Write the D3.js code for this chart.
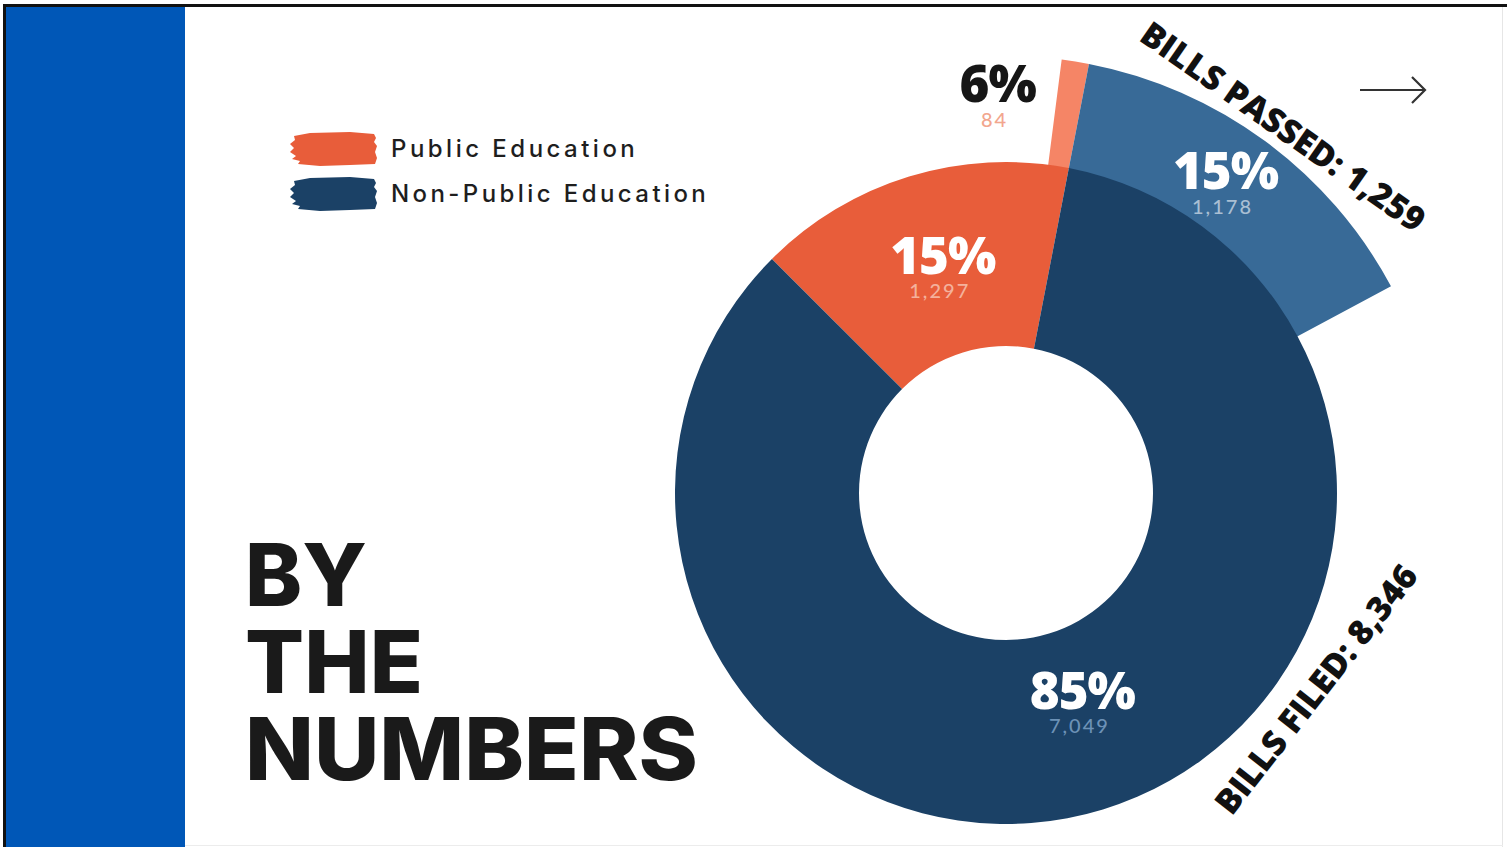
<!DOCTYPE html>
<html>
<head>
<meta charset="utf-8">
<script src="https://cdn.jsdelivr.net/npm/d3@7"></script>
<style>
  html, body { margin: 0; padding: 0; background: #fff; }
  svg { display: block; }
</style>
</head>
<body>
<svg id="chart"></svg>
<script>
const width = 1507;
const height = 847;

// bills filed (inner ring) and bills passed (outer sector)
const categories = ["Public Education", "Non-Public Education"];
const filedValues = [1297, 7049];
const passedValues = [84, 1178];
const filedPctLabels = ["15%", "85%"];
const passedPctLabels = ["6%", "15%"];
const filedTotal = "BILLS FILED: 8,346";
const passedTotal = "BILLS PASSED: 1,259";
const titleLines = ["BY", "THE", "NUMBERS"];

const colors = {
  filed: ["#e85d3a", "#1b4166"],
  passed: ["#f58566", "#386a97"],
  small: ["#f4b19c", "#6d92b7"],
  smallPassed: ["#f2a68e", "#a9bfd3"]
};

const deg = Math.PI / 180;
const cx = 1006, cy = 493;
const rInner = 147, rOuter = 331, rPassed = 437;

var svg = d3.select("#chart").attr("width", width).attr("height", height);

// side panel + frame
svg.append("rect").attr("x", 6).attr("y", 6).attr("width", 179).attr("height", height - 6).attr("fill", "#0057b7");
svg.append("line").attr("x1", 3).attr("x2", width).attr("y1", 5.5).attr("y2", 5.5).attr("stroke", "#111").attr("stroke-width", 3);
svg.append("line").attr("x1", 4.5).attr("x2", 4.5).attr("y1", 4).attr("y2", height).attr("stroke", "#111").attr("stroke-width", 3);
svg.append("line").attr("x1", 1502.5).attr("x2", 1502.5).attr("y1", 7).attr("y2", height).attr("stroke", "#e6e6e6").attr("stroke-width", 1);
svg.append("line").attr("x1", 185).attr("x2", 1503).attr("y1", 845.5).attr("y2", 845.5).attr("stroke", "#ececec").attr("stroke-width", 1);

// one scale for both rings: degrees per bill
const totalFiled = d3.sum(filedValues);
const angle = d3.scaleLinear().domain([0, totalFiled]).range([0, 2 * Math.PI]);
const startFiled = -45 * deg;

const pieFiled = d3.pie().sort(null).value(d => d)
  .startAngle(startFiled).endAngle(startFiled + 2 * Math.PI);
const filedArcs = pieFiled(filedValues);

// passed sector starts so that its split lines up with the filed split
const split = filedArcs[0].endAngle;
const passedStart = split - angle(passedValues[0]);
const passedEnd = split + angle(passedValues[1]);
const piePassed = d3.pie().sort(null).value(d => d)
  .startAngle(passedStart).endAngle(passedEnd);
const passedArcs = piePassed(passedValues);

const arcFiled = d3.arc().innerRadius(rInner).outerRadius(rOuter);
const arcPassed = d3.arc().innerRadius(rOuter - 1).outerRadius(rPassed);

const g = svg.append("g").attr("transform", `translate(${cx},${cy})`);

g.selectAll(".passed")
  .data(passedArcs)
  .join("path")
  .attr("class", "passed")
  .attr("d", arcPassed)
  .attr("fill", (d, i) => colors.passed[i]);

g.selectAll(".filed")
  .data(filedArcs)
  .join("path")
  .attr("class", "filed")
  .attr("d", arcFiled)
  .attr("fill", (d, i) => colors.filed[i]);

const pctFont = "'Open Sans', 'DejaVu Sans', sans-serif";
const numFont = "Lato, 'Open Sans', sans-serif";

function polar(a, r) {
  return [Math.sin(a) * r, -Math.cos(a) * r];
}

function label(pos, big, small, bigColor, smallColor, smallDy) {
  g.append("text")
    .attr("x", pos[0]).attr("y", pos[1] + 17)
    .attr("text-anchor", "middle")
    .attr("font-family", pctFont).attr("font-weight", 800)
    .attr("font-size", 51).attr("letter-spacing", -1)
    .attr("fill", bigColor)
    .text(big);
  g.append("text")
    .attr("x", pos[0] - 3).attr("y", pos[1] + smallDy)
    .attr("text-anchor", "middle")
    .attr("font-family", numFont).attr("font-weight", 500)
    .attr("font-size", 20).attr("letter-spacing", 2)
    .attr("fill", smallColor)
    .text(small);
}

const fmt = d3.format(",");

// filed labels
const pubMid = (filedArcs[0].startAngle + filedArcs[0].endAngle) / 2;
label(polar(pubMid + 2 * deg, 244), filedPctLabels[0], fmt(filedValues[0]), "#fff", colors.small[0], 41);
const nonMid = (filedArcs[1].startAngle + filedArcs[1].endAngle) / 2;
label(polar(nonMid - 4 * deg, 213), filedPctLabels[1], fmt(filedValues[1]), "#fff", colors.small[1], 41);

// passed labels
const blueMid = (passedArcs[1].startAngle + passedArcs[1].endAngle) / 2;
label(polar(blueMid - 2 * deg, 389), passedPctLabels[1], fmt(passedValues[1]), "#fff", colors.smallPassed[1], 42);
label(polar(passedArcs[0].startAngle - 8.5 * deg, 408), passedPctLabels[0], fmt(passedValues[0]), "#161616", colors.smallPassed[0], 42);

// totals written beside the rings
const passedMid = (passedStart + passedEnd) / 2;
const pp = polar(passedMid + 1.5 * deg, 460);
g.append("text")
  .attr("transform", `translate(${pp[0] + 7},${pp[1] + 5}) rotate(35)`)
  .attr("text-anchor", "middle").attr("dominant-baseline", "central")
  .attr("font-family", pctFont).attr("font-weight", 800)
  .attr("font-size", 34).attr("fill", "#111")
  .attr("textLength", 338).attr("lengthAdjust", "spacingAndGlyphs")
  .text(passedTotal);

const fp = polar(122.3 * deg, 366);
g.append("text")
  .attr("transform", `translate(${fp[0]},${fp[1]}) rotate(-52)`)
  .attr("text-anchor", "middle").attr("dominant-baseline", "central")
  .attr("font-family", pctFont).attr("font-weight", 800)
  .attr("font-size", 34).attr("fill", "#111")
  .attr("textLength", 305).attr("lengthAdjust", "spacingAndGlyphs")
  .text(filedTotal);

// arrow
svg.append("path")
  .attr("d", "M1360,90 H1424 M1412,77 L1425,90 L1412,103")
  .attr("fill", "none").attr("stroke", "#333").attr("stroke-width", 2.2);

// legend with brush-stroke swatches
const legend = svg.append("g").attr("transform", "translate(290,132)");
const brush = "M4,4 L20,1 L60,0 L84,2 L86,6 L84,10 L87,14 L85,20 L87,26 L85,32 L60,33 L30,34 L8,32 L10,29 L2,27 L6,24 L0,20 L4,16 L0,12 L5,8 Z";
const legendWidths = [246, 317];
const rows = legend.selectAll("g")
  .data(categories)
  .join("g")
  .attr("transform", (d, i) => `translate(0,${i * 45})`);
rows.append("path").attr("d", brush).attr("fill", (d, i) => colors.filed[i]);
rows.append("text")
  .attr("x", 101).attr("y", 25)
  .attr("font-family", "Inter, 'Open Sans', sans-serif").attr("font-weight", 500)
  .attr("font-size", 24).attr("letter-spacing", 2.2)
  .attr("fill", "#1e1e1e")
  .attr("textLength", (d, i) => legendWidths[i]).attr("lengthAdjust", "spacing")
  .text(d => d);

// title
const titleWidths = [122, 178, 453];
svg.selectAll(".title")
  .data(titleLines)
  .join("text")
  .attr("class", "title")
  .attr("x", 245).attr("y", (d, i) => 606 + i * 87)
  .attr("font-family", "Inter, 'Open Sans', sans-serif").attr("font-weight", 800)
  .attr("font-size", 86).attr("fill", "#1a1a1a")
  .attr("textLength", (d, i) => titleWidths[i]).attr("lengthAdjust", "spacingAndGlyphs")
  .text(d => d);
</script>
</body>
</html>
